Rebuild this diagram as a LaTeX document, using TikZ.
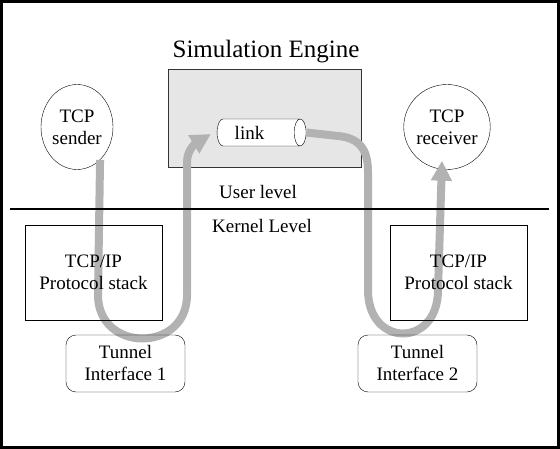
\documentclass[tikz,border=0pt]{standalone}
\usepackage{fontspec}
\setmainfont{Liberation Serif}
\usepackage{tikz}
\usetikzlibrary{shapes.geometric,arrows.meta,calc}
\definecolor{enginegray}{RGB}{230,230,230}
\definecolor{flowgray}{RGB}{178,178,178}

\begin{document}
\begin{tikzpicture}[x=1pt,y=-1pt,
    txt/.style={font=\fontsize{19}{22}\selectfont,align=center,inner sep=0},
    hostnode/.style={txt,draw,shape=ellipse,minimum width=72pt,minimum height=85pt},
    stackbox/.style={txt,draw,minimum width=137pt,minimum height=95pt},
    tunnelbox/.style={txt,draw,rounded corners=10pt,minimum width=119pt,minimum height=57pt},
    flow/.style={flowgray,line width=8pt,-{Triangle[length=20pt,width=20pt]}}]
      \useasboundingbox (0,0) rectangle (560,449);
      % outer frame
      \draw[line width=3pt] (1.5,1.5) rectangle (558.5,447.5);
      % Simulation engine with the link
      \node[font=\fontsize{25}{28}\selectfont] (title) at (266,52) {Simulation Engine};
      \node[draw=black!80,fill=enginegray,minimum width=193pt,minimum height=98pt] (engine) at (264.5,118) {};
      \node[txt,draw,fill=white,shape=cylinder,aspect=0.9,minimum width=27pt,minimum height=89pt] (link) at (258.5,132.5) {link\hspace{18pt}};
      % end hosts
      \node[hostnode] (sender) at (77,127) {TCP\\sender};
      \node[hostnode] (receiver) at (447,127) {TCP\\receiver};
      % packet path
      \draw[flow] (sender.-55) -- (98,295) .. controls (98,353) and (187,353) .. (187,295) -- (187,162)
          .. controls (187,150) and (196,143) .. ($(link.west)+(-6,1.5)$);
      \draw[flow] (link.east) -- (338,136) .. controls (360,138) and (368,150) .. (368,172) -- (368,290)
          .. controls (368,348) and (438,348) .. (438,290) -- ([xshift=-5pt,yshift=9pt]receiver.south);
      % user / kernel boundary
      \draw[line width=2pt] (10,209) coordinate (sepL) -- (549,209) coordinate (sepR);
      \node[txt] (user) at (258,192) {User level};
      \node[txt] (kernel) at (262,226) {Kernel Level};
      % kernel side
      \node[stackbox] (stackL) at (93.5,272.5) {TCP/IP\\Protocol stack};
      \node[stackbox] (stackR) at (458.5,272.5) {TCP/IP\\Protocol stack};
      \node[tunnelbox] (tunL) at (125.5,363.5) {Tunnel\\Interface 1};
      \node[tunnelbox] (tunR) at (417.5,363.5) {Tunnel\\Interface 2};
\end{tikzpicture}
\end{document}
